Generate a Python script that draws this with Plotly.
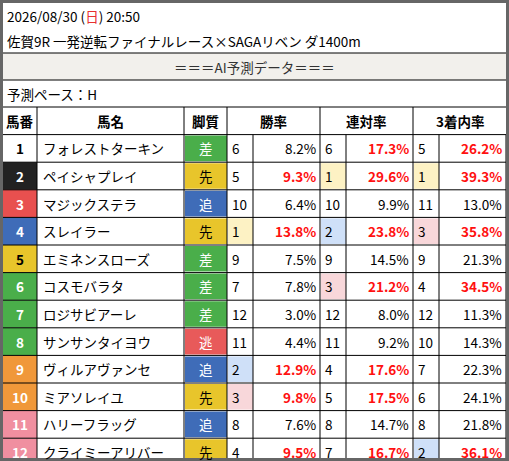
import plotly.graph_objects as go

numbers = list(range(1, 13))
names = ["フォレストターキン", "ペイシャプレイ", "マジックステラ", "スレイラー", "エミネンスローズ",
         "コスモバラタ", "ロジサビアーレ", "サンサンタイヨウ", "ヴィルアヴァンセ", "ミアソレイユ",
         "ハリーフラッグ", "クライミーアリバー"]
styles = ["差", "先", "追", "先", "差", "差", "差", "逃", "追", "先", "追", "先"]
win_rank = [6, 5, 10, 1, 9, 7, 12, 11, 2, 3, 8, 4]
win_rate = [8.2, 9.3, 6.4, 13.8, 7.5, 7.8, 3.0, 4.4, 12.9, 9.8, 7.6, 9.5]
ren_rank = [6, 1, 10, 2, 9, 3, 12, 11, 4, 5, 8, 7]
ren_rate = [17.3, 29.6, 9.9, 23.8, 14.5, 21.2, 8.0, 9.2, 17.6, 17.5, 14.7, 16.7]
plc_rank = [5, 1, 11, 3, 9, 4, 12, 10, 7, 6, 8, 2]
plc_rate = [26.2, 39.3, 13.0, 35.8, 21.3, 34.5, 11.3, 14.3, 22.3, 24.1, 21.8, 36.1]
headers = ["馬番", "馬名", "脚質", "勝率", "連対率", "3着内率"]

gate_colors = {1: "#ffffff", 2: "#222222", 3: "#e8504f", 4: "#3f6cb8", 5: "#e8c52b", 6: "#4aae4a",
               7: "#4aae4a", 8: "#4aae4a", 9: "#f0983a", 10: "#f0983a", 11: "#f08fa0", 12: "#f08fa0"}
style_colors = {"差": "#4aae4a", "先": "#e8c52b", "追": "#3f6cb8", "逃": "#e85a5a"}
rank_bg = {1: "#fdf2c4", 2: "#cfe0f8", 3: "#f8d7da"}
thresholds = [9.0, 15.0, 25.0]

W, H = 509, 461
xs = [3, 37, 184, 227, 253, 320, 346, 413, 439, 506]
top = 107
rh = 27.6
FONT = "Noto Sans CJK JP"

shapes, ann = [], []

def rect(x0, y0, x1, y1, fill):
    shapes.append(dict(type="rect", x0=x0, y0=y0, x1=x1, y1=y1, fillcolor=fill, line=dict(width=0), layer="below"))

def line(x0, y0, x1, y1, w=1, c="#000"):
    shapes.append(dict(type="line", x0=x0, y0=y0, x1=x1, y1=y1, line=dict(color=c, width=w)))

def text(x, y, s, anchor="center", size=13, color="#000", bold=False):
    if bold:
        s = "<b>" + s + "</b>"
    ann.append(dict(x=x, y=y, text=s, xanchor=anchor, yanchor="middle", showarrow=False,
                    font=dict(size=size, color=color, family=FONT)))

# top info
text(5, 16, "2026/08/30 (<span style='color:#e83030'>日</span>) 20:50", "left", 13.5)
text(5, 41, "佐賀9R 一発逆転ファイナルレース×SAGAリベン ダ1400m", "left", 13.5)
rect(3, 53, 506, 80, "#f2f0ec")
text(254.5, 67, "＝＝＝AI予測データ＝＝＝", "center", 13.5, "#333")
text(5, 94, "予測ペース：H", "left", 13.5)
for y in (53, 80, top):
    line(3, y, 506, y)

# header
hx = [(xs[0], xs[1]), (xs[1], xs[2]), (xs[2], xs[3]), (xs[3], xs[5]), (xs[5], xs[7]), (xs[7], xs[9])]
for (a, b), h in zip(hx, headers):
    text((a + b) / 2, top + rh / 2, h, "center", 13.5, bold=True)
for x in xs[1:4] + [xs[5], xs[7]]:
    line(x, top, x, top + rh)

y0 = top + rh
line(3, y0, 506, y0)
for i, n in enumerate(numbers):
    ya, yb = y0 + i * rh, y0 + (i + 1) * rh
    ym = (ya + yb) / 2
    rect(xs[0], ya, xs[1], yb, gate_colors[n])
    ncol = "#000" if n in (1, 5) else "#fff"
    text((xs[0] + xs[1]) / 2, ym, str(n), "center", 13.5, ncol, True)
    text(xs[1] + 4, ym, names[i], "left", 13.5)
    rect(xs[2] + 1, ya + 1, xs[3], yb - 1, style_colors[styles[i]])
    scol = "#000" if styles[i] == "先" else "#fff"
    text((xs[2] + xs[3]) / 2, ym, styles[i], "center", 13.5, scol)
    for k, (rk, rt) in enumerate([(win_rank, win_rate), (ren_rank, ren_rate), (plc_rank, plc_rate)]):
        xa, xb, xc = xs[3 + 2 * k], xs[4 + 2 * k], xs[5 + 2 * k]
        if rk[i] in rank_bg:
            rect(xa + 1, ya + 1, xb, yb - 1, rank_bg[rk[i]])
        text(xa + 3, ym, str(rk[i]), "left", 13.5)
        red = rt[i] >= thresholds[k]
        text(xc - 2, ym, f"{rt[i]:.1f}%", "right", 13.5, "#ff1010" if red else "#000", red)
    line(3, yb, 506, yb)
    for x in xs[1:]:
        line(x, ya, x, yb)

# outer border
shapes.append(dict(type="rect", x0=1.5, y0=1.5, x1=W - 1.5, y1=H - 1.5, line=dict(color="#666", width=3)))

fig = go.Figure()
fig.update_layout(width=W, height=H, margin=dict(l=0, r=0, t=0, b=0), paper_bgcolor="#fff",
                  plot_bgcolor="#fff", shapes=shapes, annotations=ann, showlegend=False,
                  xaxis=dict(range=[0, W], visible=False, fixedrange=True),
                  yaxis=dict(range=[H, 0], visible=False, fixedrange=True))
fig.write_html("out.html", config={"displayModeBar": False},
               post_script="document.body.style.margin='0';document.body.style.overflow='hidden';")
